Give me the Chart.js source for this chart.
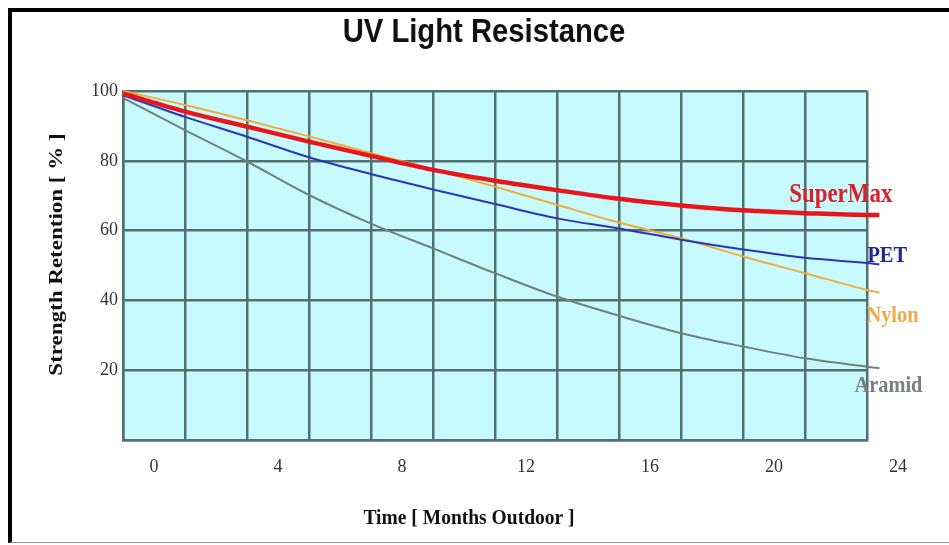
<!DOCTYPE html>
<html><head><meta charset="utf-8">
<script src="https://cdn.jsdelivr.net/npm/chart.js@4.4.1/dist/chart.umd.min.js"></script>
<style>
html,body{margin:0;padding:0;background:#fff;overflow:hidden;}
#wrap{position:relative;width:949px;height:545px;}
#frame{position:absolute;left:8px;top:8px;width:960px;height:530px;border-left:4px solid #000;border-top:4px solid #000;border-bottom:1px solid #999;}
canvas{position:absolute;left:0;top:0;}
</style></head><body>
<div id="wrap"><div id="frame"></div><canvas id="c" width="949" height="545"></canvas></div>
<script>
const months = [0,2,4,6,8,10,12,14,16,18,20,22,24,24.4];
const superMax = [99.3,94.1,89.8,85.5,81.4,77.4,74.3,71.6,69.1,67.2,65.8,65.0,64.5,64.5];
const pet = [98.8,92.6,86.9,81.0,76.2,71.8,67.6,63.5,60.6,57.4,54.6,52.2,50.7,50.3];
const nylon = [100,96.0,91.6,87.0,82.2,77.6,72.6,67.4,62.3,57.8,52.6,47.8,43.0,42.2];
const aramid = [98.0,88.8,79.8,70.2,62.0,54.9,47.8,41.1,35.6,30.6,26.8,23.4,21.0,20.6];
const seriesNames = ['SuperMax','PET','Nylon','Aramid'];
const xTickLabels = ['0','4','8','12','16','20','24'];
const yTickLabels = ['20','40','60','80','100'];
const chartTitle = 'UV Light Resistance';
const xTitle = 'Time [ Months Outdoor ]';
const yTitle = 'Strength Retention [ % ]';

const toPts = arr => arr.map((v,i)=>({x:months[i], y:v}));
const styles = [
  {color:'#e8161c', width:4.5, font:'bold 27px "Liberation Serif"', dx:13, dy:-20, align:'right', textColor:'#d8202a'},
  {color:'#2a36b8', width:2, font:'bold 24px "Liberation Serif"', dx:-12, dy:-9, align:'left', textColor:'#1c2a90'},
  {color:'#f2aa3a', width:2, font:'bold 24px "Liberation Serif"', dx:-13, dy:23, align:'left', textColor:'#f0a848'},
  {color:'#6f8080', width:2, font:'bold 24px "Liberation Serif"', dx:-25, dy:18, align:'left', textColor:'#7a8080'}
];
const values = [superMax, pet, nylon, aramid];

function squishText(ctx, text, x, y, sx, rot){
  ctx.save();
  ctx.translate(x, y);
  ctx.scale(sx, 1);
  if (rot) ctx.rotate(rot);
  ctx.fillText(text, 0, 0);
  ctx.restore();
}

const bgPlugin = {
  id:'bg',
  beforeDraw(chart){
    const {ctx, chartArea:a} = chart;
    ctx.save();
    ctx.fillStyle = '#c6fafd';
    ctx.fillRect(a.left, a.top, a.right-a.left, a.bottom-a.top);
    ctx.restore();
  },
  afterDraw(chart){
    const {ctx, chartArea:a} = chart;
    ctx.save();
    ctx.textBaseline = 'middle';
    ctx.textAlign = 'center';
    ctx.fillStyle = '#111';
    // main title
    ctx.font = 'bold 34px "Liberation Sans", Arial, sans-serif';
    squishText(ctx, chartTitle, (a.left+a.right)/2 - 11, 33, 0.86);
    // x title
    ctx.font = 'bold 21px "Liberation Serif"';
    squishText(ctx, xTitle, (a.left+a.right)/2 - 26, 519, 0.93);
    // y title
    ctx.font = 'bold 23px "Liberation Serif"';
    squishText(ctx, yTitle, 57, (a.top+a.bottom)/2 - 11, 0.8, -Math.PI/2);
    // series labels
    values.forEach((v,i)=>{
      const meta = chart.getDatasetMeta(i);
      const p = meta.data[meta.data.length-1];
      const s = styles[i];
      ctx.font = s.font;
      ctx.fillStyle = s.textColor || s.color;
      ctx.textAlign = s.align;
      squishText(ctx, seriesNames[i], p.x + s.dx, p.y + s.dy, 0.85);
    });
    ctx.restore();
  }
};

new Chart(document.getElementById('c'), {
  type:'line',
  data:{
    datasets: values.map((v,i)=>({
      label: seriesNames[i],
      data: toPts(v),
      borderColor: styles[i].color,
      borderWidth: styles[i].width,
      pointRadius: 0,
      cubicInterpolationMode: 'monotone',
      clip: false,
      fill: false
    }))
  },
  options:{
    responsive:false,
    animation:false,
    layout:{padding:{top:91, right:82, left:0, bottom:0}},
    plugins:{legend:{display:false}, tooltip:{enabled:false}, title:{display:false}},
    scales:{
      x:{
        type:'linear', min:0,
        afterDataLimits(s){ s.max = 24; },
        afterFit(s){ s.height = 105; },
        grid:{color:'#527070', lineWidth:2.5, drawTicks:false},
        border:{color:'#527070', width:2.5},
        ticks:{stepSize:2, autoSkip:false, maxRotation:0, padding:16,
          labelOffset:(c)=> (c.tick && c.tick.value === 0 ? 14 : 31),
          font:{family:'"Liberation Serif"', size:18}, color:'#333',
          callback:(v)=> (v%4===0 ? xTickLabels[v/4] : '')}
      },
      y:{
        type:'linear', min:0, max:100,
        afterFit(s){ s.width = 123; },
        grid:{color:'#527070', lineWidth:2.5, drawTicks:false},
        border:{color:'#527070', width:2.5},
        ticks:{stepSize:20, padding:5, font:{family:'"Liberation Serif"', size:18}, color:'#333',
          callback:(v)=> (yTickLabels.includes(String(v)) ? String(v) : '')}
      }
    }
  },
  plugins:[bgPlugin]
});
</script>
</body></html>
